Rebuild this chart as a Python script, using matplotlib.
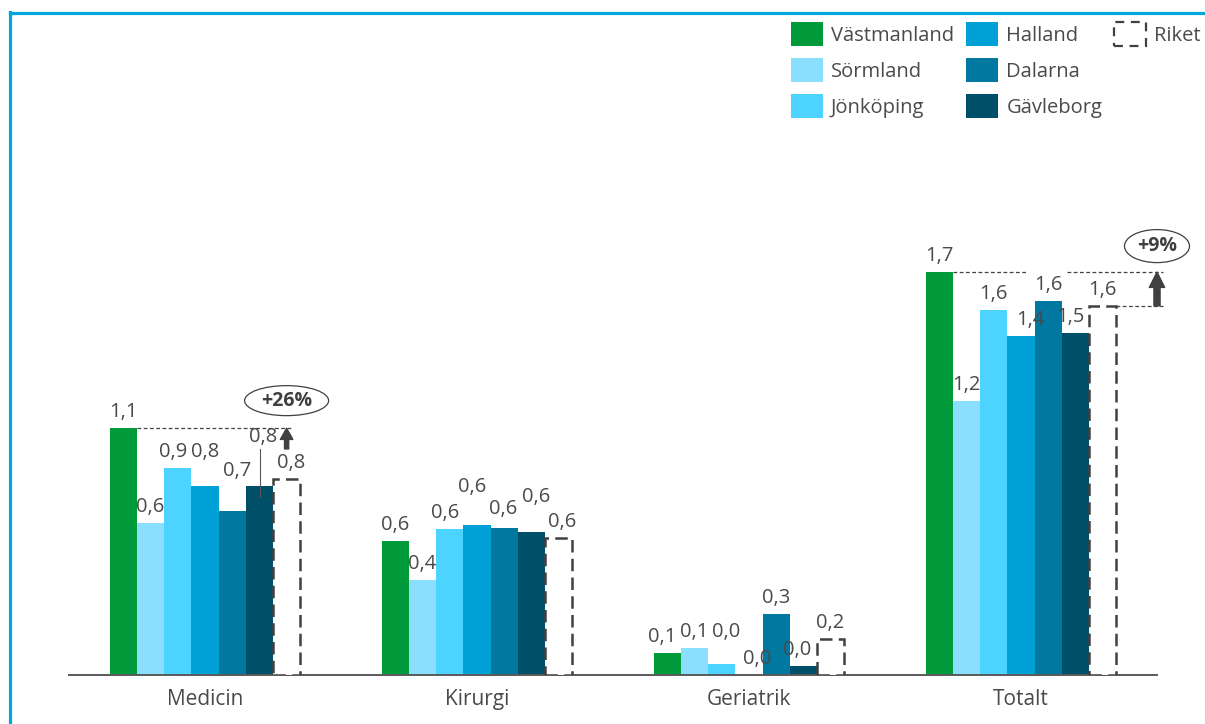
import matplotlib
matplotlib.use("Agg")
import matplotlib.pyplot as plt
import numpy as np
from matplotlib.patches import Patch, Ellipse
from matplotlib.lines import Line2D

plt.rcParams['font.family'] = ['Open Sans', 'DejaVu Sans']

# ---- data ----
categories = ["Medicin", "Kirurgi", "Geriatrik", "Totalt"]
regions = ["Västmanland", "Sörmland", "Jönköping", "Halland", "Dalarna", "Gävleborg", "Riket"]
vastmanland = [1.052, 0.571, 0.095, 1.718]
sormland = [0.647, 0.405, 0.116, 1.168]
jonkoping = [0.881, 0.621, 0.047, 1.555]
halland = [0.806, 0.640, 0.000, 1.446]
dalarna = [0.701, 0.628, 0.260, 1.594]
gavleborg = [0.806, 0.609, 0.038, 1.457]
riket = [0.835, 0.583, 0.154, 1.574]

series = [vastmanland, sormland, jonkoping, halland, dalarna, gavleborg, riket]
colors = ["#009A3B", "#8ADFFF", "#4CD3FF", "#00A1D6", "#00789F", "#004F69"]
text_col = "#4a4a4a"
dark = "#404040"

# label nudges (pixels) where labels would collide: (category, series) -> (dx, dy)
label_shift = {
    (0, 2): (-5, 0), (0, 3): (0, 18), (0, 4): (5, 24), (0, 5): (4, 33), (0, 6): (5, 0),
    (1, 2): (-5, 0), (1, 3): (-5, 22), (1, 4): (-1, 3), (1, 5): (5, 19), (1, 6): (4, 0),
    (2, 0): (-5, 0), (2, 2): (4, 16), (2, 3): (8, 0), (2, 5): (-6, 0),
    (3, 3): (9, 0), (3, 5): (-5, 0),
}

W, H = 1205, 724
fig = plt.figure(figsize=(W / 100, H / 100), dpi=100)
ax_left, ax_right, ax_base, ax_top = 69, 1157, 675, 100
ax = fig.add_axes([ax_left / W, (H - ax_base) / H, (ax_right - ax_left) / W, (ax_base - ax_top) / H])
ppu = 234.5  # pixels per unit on the y axis
ax.set_xlim(-0.5, 3.5)
ax.set_ylim(0, (ax_base - ax_top) / ppu)

x = np.arange(len(categories))
bw = 0.1
for i, vals in enumerate(series):
    xs = x + (i - 3) * bw
    if i < 6:
        ax.bar(xs, vals, width=bw, color=colors[i], linewidth=0, zorder=2)
    else:
        ax.bar(xs, vals, width=bw, facecolor="white", edgecolor=dark,
               linestyle=(0, (5, 2.5)), linewidth=1.8, zorder=3)
    for c, v in enumerate(vals):
        dx, dy = label_shift.get((c, i), (0, 0))
        ax.annotate(f"{v:.1f}".replace(".", ","), xy=(xs[c], v), xytext=(dx, 16 + dy),
                    textcoords="offset pixels", ha="center", va="center",
                    fontsize=14.5, color=text_col, zorder=5)

# leader line for the raised Gävleborg label in Medicin
ax.plot([0.202, 0.202], [gavleborg[0] + 0.158, gavleborg[0] - 0.047], color="#595959", lw=0.8, zorder=4)

dash = (0, (3, 2))

# difference markers: Västmanland vs Riket
def diff_marker(c, xa, ell_w, ell_h, ell_y, arrow_from, line_end, gap=None, head=(0.45, 0.4, 0.15)):
    top = vastmanland[c]
    base = riket[c]
    if gap is None:
        ax.plot([x[c] - 2.5 * bw, line_end], [top, top], color=dark, lw=0.9,
                linestyle=dash, zorder=4, clip_on=False)
    else:
        ax.plot([x[c] - 2.5 * bw, gap[0]], [top, top], color=dark, lw=0.9,
                linestyle=dash, zorder=4, clip_on=False)
        ax.plot([gap[1], line_end], [top, top], color=dark, lw=0.9,
                linestyle=dash, zorder=4, clip_on=False)
        ax.plot([x[c] + 3.5 * bw, line_end], [base, base], color=dark, lw=0.9,
                linestyle=dash, zorder=4, clip_on=False)
    hw, hl, tw = head
    ax.annotate("", xy=(xa, top), xytext=(xa, arrow_from),
                arrowprops=dict(arrowstyle=f"simple,head_width={hw},head_length={hl},tail_width={tw}",
                                color=dark, shrinkA=0, shrinkB=0, mutation_scale=20),
                zorder=5, annotation_clip=False)
    ax.add_patch(Ellipse((xa, ell_y), ell_w, ell_h, facecolor="white", edgecolor=dark,
                         lw=0.9, zorder=5, clip_on=False))
    pct = round((top / base - 1) * 100)
    ax.text(xa, ell_y, f"+{pct}%", ha="center", va="center", fontsize=14,
            fontweight="bold", color=dark, zorder=6, clip_on=False)

diff_marker(0, x[0] + 3 * bw, 84 / 272, 30 / ppu, 1.17, 0.964, 0.3235)
diff_marker(3, 3.5, 65 / 272, 33 / ppu, 1.829, riket[3], 3.522, gap=(3.026, 3.169),
            head=(0.55, 0.55, 0.22))

# axes styling
for s in ["left", "right", "top"]:
    ax.spines[s].set_visible(False)
ax.spines["bottom"].set_color("#595959")
ax.spines["bottom"].set_linewidth(1.4)
ax.set_yticks([])
ax.set_xticks(x)
ax.set_xticklabels(categories, fontsize=15, color=text_col)
ax.tick_params(axis="x", length=0, pad=10)

# legend
handles = [Patch(facecolor=c, edgecolor="none") for c in colors]
riket_handle = Patch(facecolor="white", edgecolor=dark, linestyle=(0, (4, 3)), linewidth=1.6)
blank = Patch(facecolor="none", edgecolor="none")
leg_handles = handles[:3] + handles[3:] + [riket_handle, blank, blank]
leg_labels = regions[:3] + regions[3:6] + ["Riket", "", ""]
fig.legend(leg_handles, leg_labels, ncol=3, loc="upper left",
           bbox_to_anchor=(791 / W, 1 - 22 / H), frameon=False, fontsize=14.5,
           labelcolor=text_col, handlelength=1.59, handleheight=1.46,
           handletextpad=0.4, columnspacing=0.6, labelspacing=0.6, borderaxespad=0,
           borderpad=0)

# blue frame along top and left
frame_col = "#00A6DC"
fig.add_artist(Line2D([10 / W, 10 / W], [0, 1 - 12 / H], color=frame_col, lw=2.3))
fig.add_artist(Line2D([10 / W, 1], [1 - 12.5 / H, 1 - 12.5 / H], color=frame_col, lw=2.3))

fig.savefig("out.png", dpi=100)
